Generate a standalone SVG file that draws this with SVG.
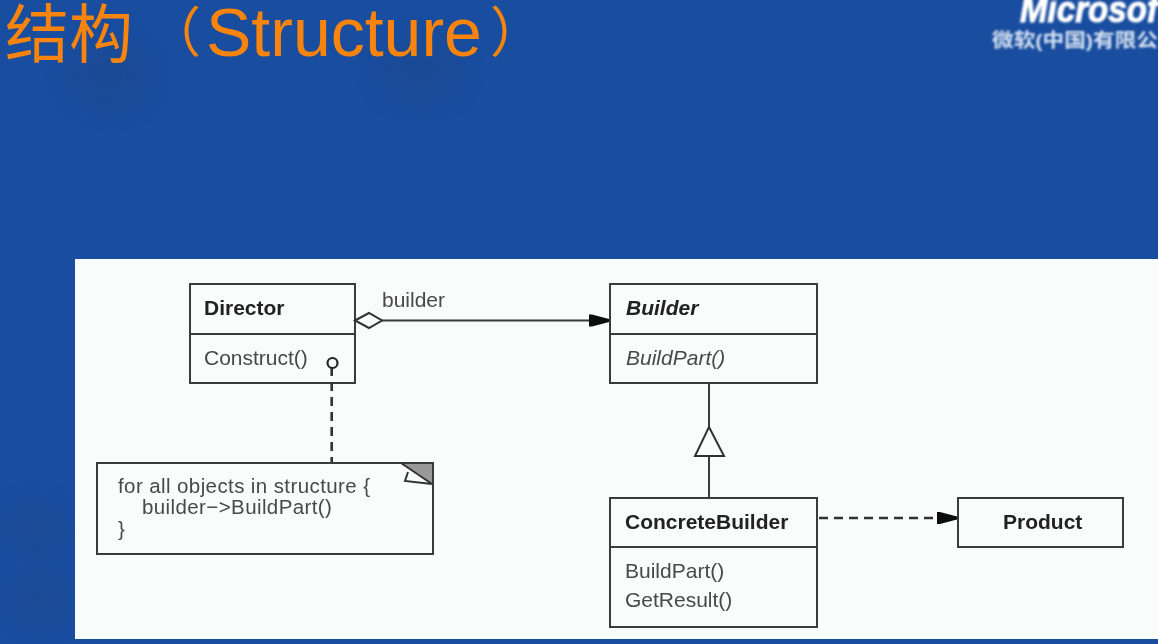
<svg xmlns="http://www.w3.org/2000/svg" width="1158" height="644" viewBox="0 0 1158 644">
<style>
.box{fill:#f8fcfa;stroke:#3a3a3a;stroke-width:2}
.ln{fill:none;stroke:#3a3a3a;stroke-width:2}
.dash{fill:none;stroke:#333;stroke-width:2.6;stroke-dasharray:9 6}
text{font-family:"Liberation Sans",Arial,"Noto Sans CJK SC",sans-serif;font-size:21px;fill:#484848}
.b{font-weight:bold;fill:#222}
.i{font-style:italic}
.nt{font-size:20.5px;letter-spacing:.4px}
.title{font-size:68px;fill:#f98408}
.cn{font-size:64px;fill:#f98408}
.br{font-size:54px;fill:#f98408}
</style>
<defs>
<marker id="solid" markerUnits="userSpaceOnUse" markerWidth="22" markerHeight="14" refX="21" refY="7" orient="auto"><path d="M1 1 L4 1 L21 5.500 V8.500 L4 13 L1 13 Z" fill="#111"/></marker>
<filter id="soft" x="-5%" y="-5%" width="110%" height="110%"><feGaussianBlur stdDeviation="0.5"/></filter>
<filter id="logo" x="-5%" y="-20%" width="110%" height="140%"><feGaussianBlur stdDeviation="0.8"/></filter>
<filter id="blot" x="-50%" y="-50%" width="200%" height="200%"><feGaussianBlur stdDeviation="12"/></filter>
</defs>
<rect width="1158" height="644" fill="#194d9f"/>
<g filter="url(#blot)" fill="#1a4688" opacity=".45">
<ellipse cx="110" cy="75" rx="40" ry="32"/>
<ellipse cx="420" cy="70" rx="40" ry="30"/>
<ellipse cx="35" cy="530" rx="28" ry="25"/>
<ellipse cx="40" cy="600" rx="30" ry="25"/>
</g>
<rect x="75" y="259" width="1083" height="380" fill="#f8fcfa"/>
<g filter="url(#soft)">
<text class="cn" x="5" y="57">结构</text>
<text class="br" x="147" y="52">（</text>
<text class="title" x="206" y="56">Structure</text>
<text class="br" x="490" y="52">）</text>
</g>
<g filter="url(#logo)">
<text x="1020" y="22" textLength="138" lengthAdjust="spacingAndGlyphs" style="font-size:36px;font-weight:bold;font-style:italic;fill:#fff;stroke:#fff;stroke-width:1">Microsof</text>
<text x="992" y="47" textLength="166" lengthAdjust="spacingAndGlyphs" style="font-size:19px;font-weight:bold;fill:#d6e2f2">微软(中国)有限公</text>
</g>
<g filter="url(#soft)">
<g id="director">
<rect class="box" x="190" y="284" width="165" height="99"/>
<path class="ln" d="M190 334 H355"/>
<text class="b" x="204" y="315">Director</text>
<text x="204" y="365">Construct()</text>
</g>
<g id="builder">
<rect class="box" x="610" y="284" width="207" height="99"/>
<path class="ln" d="M610 334 H817"/>
<text class="b i" x="626" y="315">Builder</text>
<text class="i" x="626" y="365">BuildPart()</text>
</g>
<g id="concrete-builder">
<rect class="box" x="610" y="498" width="207" height="129"/>
<path class="ln" d="M610 547 H817"/>
<text class="b" x="625" y="529">ConcreteBuilder</text>
<text x="625" y="578">BuildPart()</text>
<text x="625" y="607">GetResult()</text>
</g>
<g id="product">
<rect class="box" x="958" y="498" width="165" height="49"/>
<text class="b" x="1003" y="529">Product</text>
</g>
<g id="note">
<rect class="box" x="97" y="463" width="336" height="91"/>
<path d="M402 464 H432 V484 Z" fill="#999"/>
<path d="M401 463 L432 484 M408 472 L405 481 L432 484" fill="#f8fcfa" stroke="#333" stroke-width="2"/>
<text class="nt" x="118" y="493">for all objects in structure {</text>
<text class="nt" x="142" y="514">builder−&gt;BuildPart()</text>
<text class="nt" x="118" y="536">}</text>
</g>
<g id="connectors">
<path class="ln" d="M382 320.500 H609" marker-end="url(#solid)"/>
<path class="ln" d="M709 383 V428 M709 456 V497"/>
<path class="dash" d="M819 518 H957" marker-end="url(#solid)"/>
<path class="dash" d="M331.700 367 V462"/>
<circle cx="332.500" cy="363" r="5" fill="#f8fcfa" stroke="#222" stroke-width="2.200"/>
<path d="M355 320.500 L369 313 L382 320.500 L369 328 Z" fill="#f8fcfa" stroke="#333" stroke-width="2"/>
<path d="M709 427 L724 456 H695 Z" fill="#f8fcfa" stroke="#333" stroke-width="2"/>
<text x="382" y="307">builder</text>
</g>
</g>
</svg>
